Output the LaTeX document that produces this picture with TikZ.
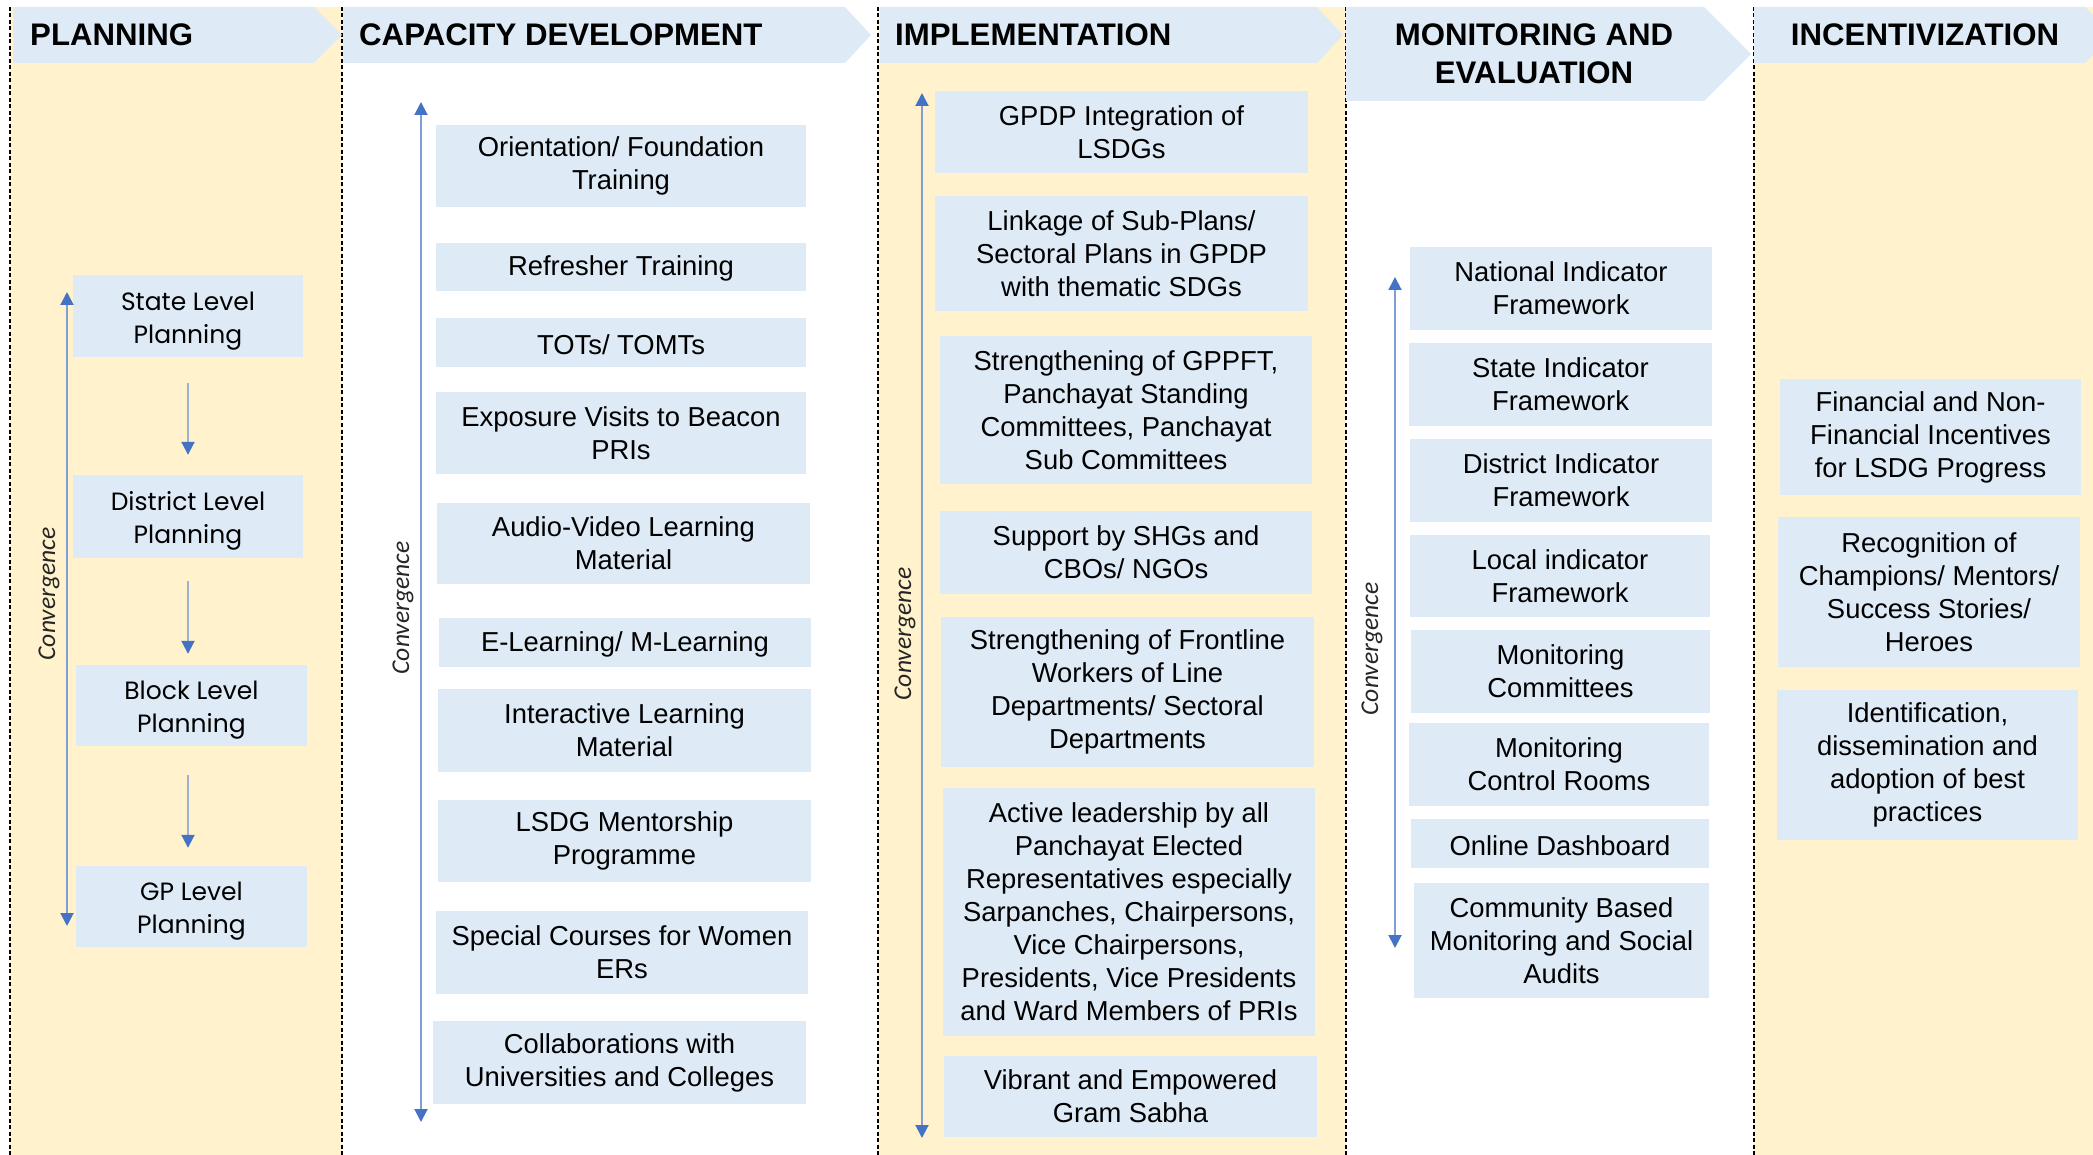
\documentclass[tikz,border=0pt]{standalone}
\usepackage{fontspec}
\setmainfont{Liberation Sans}
\newfontfamily\gothicfont{Poppins}
\newfontfamily\calibfont{Carlito}
\usetikzlibrary{arrows.meta}
\definecolor{boxblue}{HTML}{DEEBF7}
\definecolor{colyellow}{HTML}{FFF2CC}
\definecolor{arrblue}{HTML}{4472C4}
\definecolor{arrline}{HTML}{7F9ED6}
\definecolor{flowline}{HTML}{9DB0D0}
\definecolor{lbltext}{HTML}{262626}
\newcommand{\tallrow}{\rule{0pt}{28pt}}
\begin{document}
\begin{tikzpicture}[x=1pt,y=-1pt,
  box/.style={fill=boxblue, draw=none, align=center, inner sep=0pt, text=black,
    font=\fontsize{27.4}{33}\selectfont, execute at begin node={\rule{0pt}{23.5pt}}},
  pbox/.style={fill=boxblue, draw=none, align=center, inner sep=0pt, text=black,
    font=\gothicfont\fontsize{25}{33}\selectfont},
  bx/.style n args={2}{minimum width=#1pt, minimum height=#2pt},
  hdrshape/.style={fill=boxblue, draw=none},
  hdr/.style={font=\bfseries\fontsize{31.2}{38}\selectfont, inner sep=0pt, text=black, align=center},
  colsep/.style={draw=black, line width=1.1pt, dash pattern=on 4pt off 2.5pt},
  convline/.style={draw=arrline, line width=2pt,
    {Triangle[width=13pt,length=13pt,color=arrblue]}-{Triangle[width=13pt,length=13pt,color=arrblue]}},
  flow/.style={draw=flowline, line width=2pt, -{Triangle[width=13pt,length=13pt,color=arrblue]}},
  convlbl/.style={rotate=90, inner sep=0pt, text=lbltext, font=\calibfont\itshape\fontsize{25.6}{30}\selectfont}]

\useasboundingbox (0,0) rectangle (2093,1155);
\clip (0,0) rectangle (2093,1155);

% column backgrounds
\fill[colyellow] (10,7) rectangle (342,1155);
\fill[colyellow] (878,7) rectangle (1346,1155);
\fill[colyellow] (1754,7) rectangle (2093,1155);

% column separators
\foreach \xx in {10,342,878,1346,1754} {
  \draw[colsep] (\xx,7) -- (\xx,1155);
}

% headers
\fill[hdrshape] (13,7) -- (314,7) -- (342,35) -- (314,63) -- (13,63) -- cycle;
\fill[hdrshape] (343,7) -- (845,7) -- (871,35) -- (845,63) -- (343,63) -- cycle;
\fill[hdrshape] (880,7) -- (1317,7) -- (1343,35) -- (1317,63) -- (880,63) -- cycle;
\fill[hdrshape] (1346,7) -- (1704,7) -- (1751,54) -- (1704,101) -- (1346,101) -- cycle;
\fill[hdrshape] (1754,7) -- (2085,7) -- (2113,35) -- (2085,63) -- (1754,63) -- cycle;

\node[hdr, anchor=west] (hplan) at (30,35) {PLANNING};
\node[hdr, anchor=west] (hcap) at (359,35) {CAPACITY DEVELOPMENT};
\node[hdr, anchor=west] (himp) at (895,35) {IMPLEMENTATION};
\node[hdr] (hmon) at (1534,54) {MONITORING AND\\EVALUATION};
\node[hdr] (hinc) at (1925,35) {INCENTIVIZATION};

% ---------------- Planning ----------------
\node[pbox, bx={230}{82}] (p1) at (188,316) {\tallrow State Level\\Planning};
\node[pbox, bx={230}{83}] (p2) at (188,516.5) {\tallrow District Level\\Planning};
\node[pbox, bx={231}{81}] (p3) at (191.5,705.5) {\tallrow Block Level\\Planning};
\node[pbox, bx={231}{81}] (p4) at (191.5,906.5) {\tallrow GP Level\\Planning};

\draw[flow] ([yshift=-26pt]p1.south) -- ([yshift=20pt]p2.north);
\draw[flow] ([yshift=-23pt]p2.south) -- ([yshift=11pt]p3.north -| p2.south);
\draw[flow] ([yshift=-29pt]p3.south -| p1.south) -- ([yshift=18pt]p4.north -| p1.south);

\coordinate (cvpa) at (67,292);
\coordinate (cvpb) at (67,926);
\draw[convline] (cvpa) -- (cvpb);
\node[convlbl] (lp) at (49,594) {Convergence};

% ---------------- Capacity development ----------------
\node[box, bx={370}{82}] (c1) at (621,166) {Orientation/ Foundation\\Training};
\node[box, bx={370}{48}] (c2) at (621,267) {Refresher Training};
\node[box, bx={370}{49}] (c3) at (621,342.5) {TOTs/ TOMTs};
\node[box, bx={370}{82}] (c4) at (621,433) {Exposure Visits to Beacon\\PRIs};
\node[box, bx={373}{81}] (c5) at (623.5,543.5) {Audio-Video Learning\\Material};
\node[box, bx={372}{49}] (c6) at (625,642.5) {E-Learning/ M-Learning};
\node[box, bx={373}{83}] (c7) at (624.5,730.5) {Interactive Learning\\Material};
\node[box, bx={373}{82}] (c8) at (624.5,841) {LSDG Mentorship\\Programme};
\node[box, bx={372}{83}] (c9) at (622,952.5) {Special Courses for Women\\ERs};
\node[box, bx={373}{83}] (c10) at (619.5,1062.5) {Collaborations with\\Universities and Colleges};

\coordinate (cvca) at (421,102);
\coordinate (cvcb) at (421,1122);
\draw[convline] (cvca) -- (cvcb);
\node[convlbl] (lc) at (403,608) {Convergence};

% ---------------- Implementation ----------------
\node[box, bx={373}{82}] (i1) at (1121.5,132) {GPDP Integration of\\LSDGs};
\node[box, bx={373}{115}] (i2) at (1121.5,254) {Linkage of Sub-Plans/\\Sectoral Plans in GPDP\\with thematic SDGs};
\node[box, bx={372}{148}] (i3) at (1126,410) {Strengthening of GPPFT,\\Panchayat Standing\\Committees, Panchayat\\Sub Committees};
\node[box, bx={372}{83}] (i4) at (1126,552) {Support by SHGs and\\CBOs/ NGOs};
\node[box, bx={373}{150}] (i5) at (1127.5,692) {Strengthening of Frontline\\Workers of Line\\Departments/ Sectoral\\Departments};
\node[box, bx={372}{248}] (i6) at (1129,912) {Active leadership by all\\Panchayat Elected\\Representatives especially\\Sarpanches, Chairpersons,\\Vice Chairpersons,\\Presidents, Vice Presidents\\and Ward Members of PRIs};
\node[box, bx={373}{81}] (i7) at (1130.5,1096.5) {Vibrant and Empowered\\Gram Sabha};

\coordinate (cvia) at (922,93);
\coordinate (cvib) at (922,1138);
\draw[convline] (cvia) -- (cvib);
\node[convlbl] (li) at (905,634) {Convergence};

% ---------------- Monitoring and evaluation ----------------
\node[box, bx={302}{83}] (m1) at (1561,288.5) {National Indicator\\Framework};
\node[box, bx={303}{83}] (m2) at (1560.5,384.5) {State Indicator\\Framework};
\node[box, bx={302}{83}] (m3) at (1561,480.5) {District Indicator\\Framework};
\node[box, bx={300}{82}] (m4) at (1560,576) {Local indicator\\Framework};
\node[box, bx={299}{83}] (m5) at (1560.5,671.5) {Monitoring\\Committees};
\node[box, bx={300}{83}] (m6) at (1559,764.5) {Monitoring\\Control Rooms};
\node[box, bx={298}{49}] (m7) at (1560,843.5) {Online Dashboard};
\node[box, bx={295}{115}] (m8) at (1561.5,940.5) {Community Based\\Monitoring and Social\\Audits};

\coordinate (cvma) at (1395,277);
\coordinate (cvmb) at (1395,948);
\draw[convline] (cvma) -- (cvmb);
\node[convlbl] (lm) at (1372,649) {Convergence};

% ---------------- Incentivization ----------------
\node[box, bx={301}{116}] (n1) at (1930.5,437) {Financial and Non-\\Financial Incentives\\for LSDG Progress};
\node[box, bx={302}{150}] (n2) at (1929,592) {Recognition of\\Champions/ Mentors/\\Success Stories/\\Heroes};
\node[box, bx={301}{150}] (n3) at (1927.5,765) {Identification,\\dissemination and\\adoption of best\\practices};

\end{tikzpicture}
\end{document}
